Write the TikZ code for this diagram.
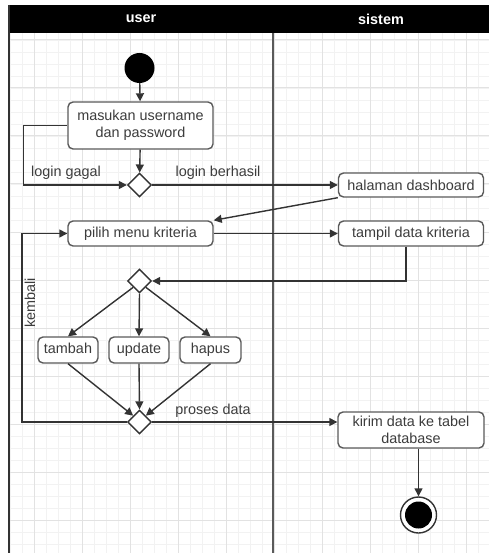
\documentclass[tikz,border=0pt]{standalone}
\usepackage{fontspec}
\setmainfont{Liberation Sans}
\usepackage{tikz}
\usetikzlibrary{arrows.meta,positioning,calc,shapes.geometric}
\usepackage{xcolor}
\definecolor{flowline}{RGB}{51,51,51}
\definecolor{flowtext}{RGB}{60,60,60}
\definecolor{gridminor}{RGB}{242,242,242}
\definecolor{gridmajor}{RGB}{226,226,226}
\definecolor{laneline}{RGB}{90,90,90}

\tikzset{
    actbox/.style={draw=laneline,line width=1.4pt,rounded corners=5pt,fill=white,
        text=flowtext,font=\fontsize{14.4}{17}\selectfont,align=center,
        minimum width=145pt,minimum height=25pt,inner sep=2pt},
    smallbox/.style={actbox,minimum height=26pt,text height=10.5pt,text depth=3pt},
    decision/.style={diamond,draw=flowline,line width=1.4pt,fill=white,
        minimum width=24pt,minimum height=24pt,inner sep=0pt},
    flow/.style={draw=flowline,line width=1.4pt,-{Triangle[length=8pt,width=8pt]}},
    flowlabel/.style={text=flowtext,font=\fontsize{14.4}{17}\selectfont,inner sep=0pt}
}

\begin{document}
\begin{tikzpicture}[x=1pt,y=-1pt]
    \useasboundingbox (0,0) rectangle (489,553);
    % grid
    \foreach \gx in {10,22,...,489} \draw[gridminor,line width=0.8pt] (\gx,33) -- (\gx,553);
    \foreach \gy in {40,52,...,553} \draw[gridminor,line width=0.8pt] (9,\gy) -- (489,\gy);
    \foreach \gx in {34,82,...,489} \draw[gridmajor,line width=1pt] (\gx,33) -- (\gx,553);
    \foreach \gy in {40,88,...,553} \draw[gridmajor,line width=1pt] (9,\gy) -- (489,\gy);
    % swimlanes
    \fill[black] (9,5) rectangle (489,33);
    \node[white,font=\fontsize{14.4}{17}\selectfont\bfseries] (laneuser) at (141,19) {user};
    \node[white,font=\fontsize{14.4}{17}\selectfont\bfseries] (lanesistem) at (381,19) {sistem};
    \draw[flowline,line width=1.8pt] (9,5) -- (9,553);
    \draw[laneline,line width=1.6pt] (273,33) -- (273,553);

    \node[circle,fill=black,minimum size=30pt,inner sep=0pt] (start) at (139.5,68) {};
    \node[actbox,minimum height=47pt] (masukan) at (140.5,125.5) {masukan username\\dan password};
    \node[decision] (cek) at (139.5,185) {};
    \node[actbox,minimum height=24pt] (dashboard) at (411,185) {halaman dashboard};
    \node[actbox] (pilih) at (140.5,233.5) {pilih menu kriteria};
    \node[actbox] (tampil) at (411,233.5) {tampil data kriteria};
    \node[decision] (menu) at (139.5,281) {};
    \node[smallbox,minimum width=60pt] (tambah) at (68,350) {tambah};
    \node[smallbox,minimum width=60pt] (update) at (139,350) {update};
    \node[smallbox,minimum width=61pt] (hapus) at (210.5,350) {hapus};
    \node[decision] (proses) at (139.5,422) {};
    \node[actbox,minimum width=146pt,minimum height=36pt] (kirim) at (411,430) {kirim data ke tabel\\database};
    \node[circle,draw=flowline,line width=1.4pt,fill=white,minimum size=36pt,inner sep=0pt] (end) at (418.5,515) {};
    \fill[black] (end) circle (13.5);

    \draw[flow] (start) -- (masukan);
    \draw[flow] (masukan) -- (cek);
    \draw[flow] (masukan.west) -- ++(-44,0) |- (cek.west);
    \node[flowlabel] (gagal) at (66,173) {login gagal};
    \draw[flow] (cek.east) -- (dashboard.west);
    \node[flowlabel] (berhasil) at (218,173) {login berhasil};
    \draw[flow] (dashboard.south west) -- (pilih.north east);
    \draw[flow] (pilih) -- (tampil);
    \draw[flow] ($(tampil.south)+(-5,0)$) |- (menu.east);
    \draw[flow] (menu.south west) -- (tambah.north);
    \draw[flow] (menu.south) -- (update.north);
    \draw[flow] (menu.south east) -- (hapus.north);
    \draw[flow] (tambah.south) -- (proses.north west);
    \draw[flow] (update.south) -- (proses.north);
    \draw[flow] (hapus.south) -- (proses.north east);
    \draw[flow] (proses.west) -- ++(-105,0) |- (pilih.west);
    \node[flowlabel,rotate=90] (kembali) at (30,303) {kembali};
    \draw[flow] (proses.east) -- (kirim.west |- proses);
    \node[flowlabel] (prosesdata) at (213,411) {proses data};
    \draw[flow] (end |- kirim.south) -- (end);
\end{tikzpicture}
\end{document}
